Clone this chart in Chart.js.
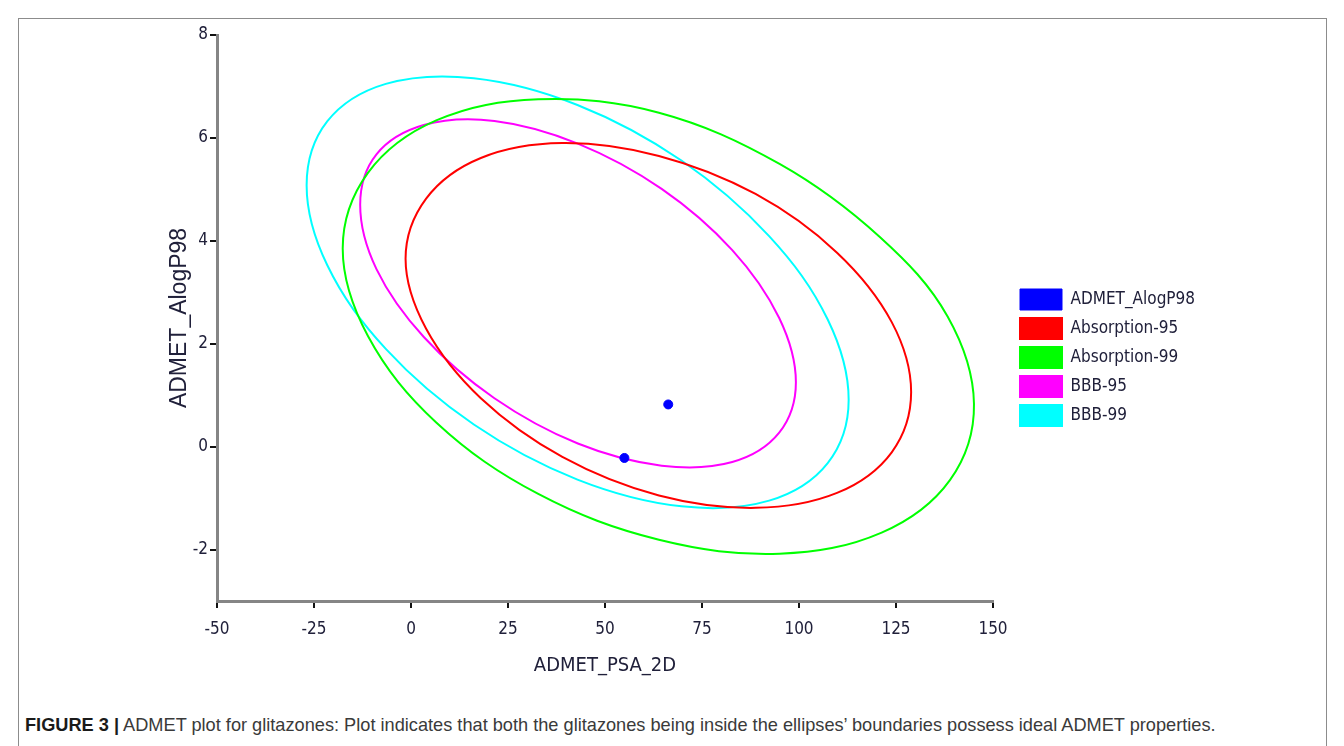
<!DOCTYPE html>
<html>
<head>
<meta charset="utf-8">
<title>ADMET plot for glitazones</title>
<script src="https://cdn.jsdelivr.net/npm/chart.js@4.4.0/dist/chart.umd.min.js"></script>
<style>
    html, body { margin: 0; padding: 0; background: #fff; }
    body { width: 1344px; height: 746px; position: relative; overflow: hidden; }
    #frame { position: absolute; left: 18px; top: 18px; width: 1307px; height: 800px; border: 1px solid #8c8c8c; }
    #wrap { position: absolute; left: 0; top: 0; width: 1344px; height: 680px; }
    #caption { position: absolute; left: 25px; top: 715px; font: 18.2px 'Liberation Sans', Arial, sans-serif; color: #3a3a3a; white-space: nowrap; }
    #caption b { color: #1a1a1a; }
</style>
</head>
<body>
<div id="frame"></div>
<div id="wrap"><canvas id="admet-chart" width="1344" height="680"></canvas></div>
<div id="caption"><b>FIGURE 3 |</b> ADMET plot for glitazones: Plot indicates that both the glitazones being inside the ellipses’ boundaries possess ideal ADMET properties.</div>

<script>
// Axis ticks
const xTicks = [-50, -25, 0, 25, 50, 75, 100, 125, 150];
const yTicks = [-2, 0, 2, 4, 6, 8];

// Compounds (ADMET_PSA_2D, ADMET_AlogP98)
const compounds = [[66.3, 0.82], [55.0, -0.22]];

// Ellipse outlines, [PSA_2D, AlogP98], going round once
const absorption95 = [
    [128.9, 1.06], [123.9, -0.11], [109.8, -0.90], [88.8, -1.19], [63.9, -0.95], [39.0, -0.20],
    [18.0, 0.94], [3.9, 2.29], [-1.4, 3.65], [3.9, 4.82], [18.0, 5.61], [39.0, 5.90],
    [63.9, 5.65], [88.8, 4.91], [109.8, 3.77], [123.9, 2.42]
];
const absorption99 = [
    [145.1, 0.83], [138.9, -0.65], [121.3, -1.67], [95.0, -2.08], [63.9, -1.81], [32.8, -0.92],
    [6.5, 0.47], [-11.1, 2.15], [-17.6, 3.85], [-11.1, 5.32], [6.5, 6.34], [32.8, 6.75],
    [63.9, 6.49], [95.1, 5.49], [120.9, 4.07], [138.3, 2.53]
];
const bbb95 = [
    [99.2, 1.25], [94.9, 0.27], [82.8, -0.30], [64.6, -0.37], [43.0, 0.06], [21.5, 0.94],
    [3.3, 2.13], [-8.9, 3.45], [-13.1, 4.70], [-8.9, 5.68], [3.3, 6.25], [21.5, 6.33],
    [43.0, 5.89], [64.6, 5.01], [82.8, 3.82], [94.9, 2.50]
];
const bbb99 = [
    [112.8, 0.91], [107.4, -0.32], [92.3, -1.05], [69.7, -1.16], [42.9, -0.64], [16.2, 0.43],
    [-6.5, 1.90], [-21.6, 3.53], [-26.9, 5.08], [-21.6, 6.32], [-6.5, 7.05], [16.2, 7.16],
    [42.9, 6.64], [69.7, 5.56], [92.3, 4.09], [107.4, 2.47]
];

const TEXT = '#20203a';
const NARROW = "'Liberation Sans Narrow', 'DejaVu Sans Condensed', sans-serif";
const PLOT = { left: 217, right: 993, top: 35, bottom: 601 };
const CANVAS_W = 1344;
const CANVAS_H = 680;

function toPoints(pairs) {
    return pairs.map(p => ({ x: p[0], y: p[1] }));
}

function outline(label, pairs, color) {
    return {
        label: label,
        data: toPoints(pairs),
        closed: true,
        showLine: true,
        fill: false,
        borderColor: color,
        backgroundColor: color,
        borderWidth: 2,
        pointRadius: 0,
        tension: 0.36
    };
}

// let the line element close the outline smoothly (same as radar charts do)
const closedOutlines = {
    id: 'closedOutlines',
    afterDatasetUpdate(chart, args) {
        const line = args.meta.dataset;
        if (line && chart.data.datasets[args.index].closed) {
            line._loop = true;
            line._fullLoop = true;
            line._pointsUpdated = false;
            delete line._segments;
            line._path = undefined;
        }
    }
};

// keep the legend in the right gutter, like the original figure
const legendSpot = {
    id: 'legendSpot',
    afterInit(chart) {
        const legend = chart.legend;
        const fit = legend.fit.bind(legend);
        legend.fit = () => { fit(); legend.width = CANVAS_W - PLOT.right; };
    },
    afterLayout(chart) {
        chart.legend.left += 19;
    }
};

const ctx = document.getElementById('admet-chart').getContext('2d');

new Chart(ctx, {
    type: 'scatter',
    data: {
        datasets: [
            {
                label: 'ADMET_AlogP98',
                data: toPoints(compounds),
                showLine: false,
                backgroundColor: '#0000ff',
                borderColor: '#0000ff',
                borderWidth: 1,
                pointRadius: 4.5
            },
            outline('Absorption-95', absorption95, '#ff0000'),
            outline('Absorption-99', absorption99, '#00ff00'),
            outline('BBB-95', bbb95, '#ff00ff'),
            outline('BBB-99', bbb99, '#00ffff')
        ]
    },
    options: {
        responsive: false,
        animation: false,
        layout: { padding: { top: PLOT.top, left: 0, right: 0, bottom: 0 } },
        plugins: {
            legend: {
                position: 'right',
                align: 'center',
                labels: {
                    boxWidth: 42,
                    boxHeight: 21,
                    padding: 8,
                    color: TEXT,
                    font: { family: NARROW, size: 17 }
                }
            },
            tooltip: { enabled: false }
        },
        scales: {
            x: {
                type: 'linear',
                min: -50,
                max: 150,
                afterBuildTicks: s => { s.ticks = xTicks.map(v => ({ value: v })); },
                afterFit: s => { s.height = CANVAS_H - PLOT.bottom; },
                ticks: { color: TEXT, padding: 11, font: { family: NARROW, size: 17 } },
                border: { color: '#858585', width: 3 },
                grid: { drawOnChartArea: false, drawTicks: true, tickLength: 7, color: '#111', lineWidth: 2 },
                title: {
                    display: true,
                    text: 'ADMET_PSA_2D',
                    color: TEXT,
                    font: { family: NARROW, size: 20 },
                    padding: { top: 0, bottom: 2 }
                }
            },
            y: {
                type: 'linear',
                min: -3,
                max: 8,
                afterBuildTicks: s => { s.ticks = yTicks.map(v => ({ value: v })); },
                afterFit: s => { s.width = PLOT.left; },
                ticks: { color: TEXT, padding: 2, font: { family: NARROW, size: 17 } },
                border: { color: '#858585', width: 3 },
                grid: { drawOnChartArea: false, drawTicks: true, tickLength: 7, color: '#111', lineWidth: 2 },
                title: {
                    display: true,
                    text: 'ADMET_AlogP98',
                    color: TEXT,
                    font: { family: "'Liberation Sans', Arial, sans-serif", size: 23 },
                    padding: { top: 166, bottom: 0 }
                }
            }
        }
    },
    plugins: [closedOutlines, legendSpot]
});
</script>
</body>
</html>
